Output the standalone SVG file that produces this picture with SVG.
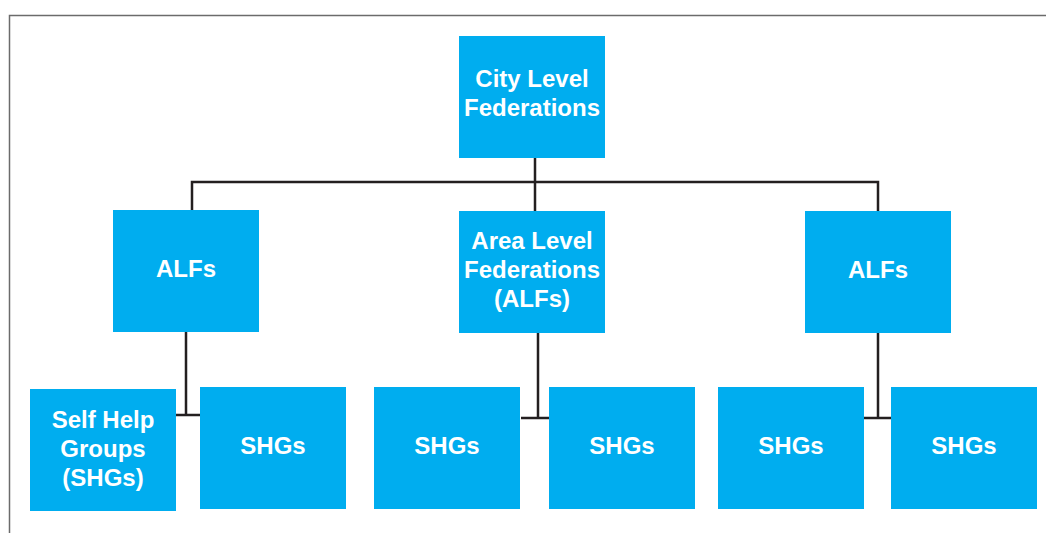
<svg xmlns="http://www.w3.org/2000/svg" width="1046" height="533" viewBox="0 0 1046 533">
<style>
.n{fill:#00adef;}
.t{font-family:"Liberation Sans",Arial,sans-serif;font-weight:bold;font-size:24px;fill:#ffffff;text-anchor:middle;}
.c{stroke:#231f20;stroke-width:2.5;fill:none;}
</style>
<rect x="9.5" y="15.5" width="1100" height="600" fill="#ffffff" stroke="#6b6b6b" stroke-width="1.5"/>
<g id="connectors">
<path class="c" d="M535 158V211M192 210V182H878V211"/>
<path class="c" d="M186 332V415M176 415H200"/>
<path class="c" d="M538 333V418M521 418H549"/>
<path class="c" d="M878 333V418M864 418H891"/>
</g>
<g id="city"><rect class="n" x="459" y="36" width="146" height="122"/><text class="t" x="532" y="86.5">City Level</text><text class="t" x="532" y="115.5">Federations</text></g>
<g id="alf-left"><rect class="n" x="113" y="210" width="146" height="122"/><text class="t" x="186" y="276.5">ALFs</text></g>
<g id="alf-mid"><rect class="n" x="459" y="211" width="146" height="122"/><text class="t" x="532" y="248.5">Area Level</text><text class="t" x="532" y="277.5">Federations</text><text class="t" x="532" y="306.5">(ALFs)</text></g>
<g id="alf-right"><rect class="n" x="805" y="211" width="146" height="122"/><text class="t" x="878" y="277.5">ALFs</text></g>
<g id="shg1"><rect class="n" x="30" y="389" width="146" height="122"/><text class="t" x="103" y="427.5">Self Help</text><text class="t" x="103" y="456.5">Groups</text><text class="t" x="103" y="485.5">(SHGs)</text></g>
<g id="shg2"><rect class="n" x="200" y="387" width="146" height="122"/><text class="t" x="273" y="453.5">SHGs</text></g>
<g id="shg3"><rect class="n" x="374" y="387" width="146" height="122"/><text class="t" x="447" y="453.5">SHGs</text></g>
<g id="shg4"><rect class="n" x="549" y="387" width="146" height="122"/><text class="t" x="622" y="453.5">SHGs</text></g>
<g id="shg5"><rect class="n" x="718" y="387" width="146" height="122"/><text class="t" x="791" y="453.5">SHGs</text></g>
<g id="shg6"><rect class="n" x="891" y="387" width="146" height="122"/><text class="t" x="964" y="453.5">SHGs</text></g>
</svg>
